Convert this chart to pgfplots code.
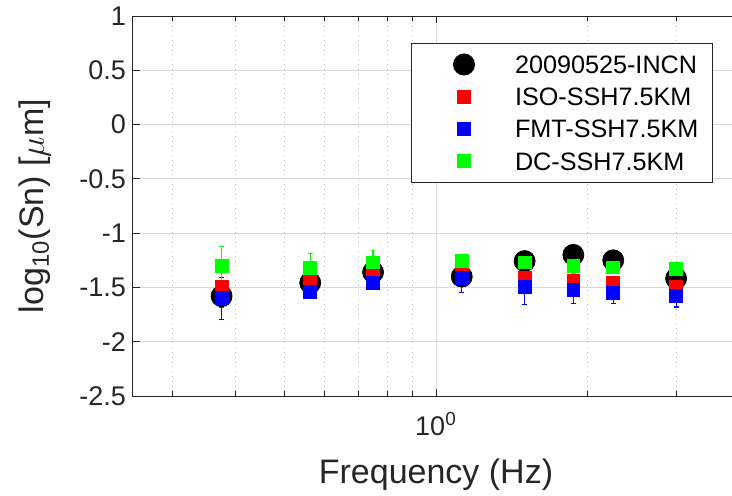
\documentclass[border=0pt]{standalone}
\usepackage{fontspec}
\setmainfont{Liberation Sans}
\usepackage{pgfplots}
\pgfplotsset{compat=1.18}
\usepackage{pgfplotstable}

\pgfplotstableread{
x      y       ey
0.375  -1.58   0
0.5625 -1.457  0
0.75   -1.36   0
1.125  -1.40   0
1.5    -1.257  0
1.875  -1.20   0
2.25   -1.25   0
3.0    -1.417  0
}\incn
\pgfplotstableread{
x      y       ey
0.375  -1.49   0.19
0.5625 -1.44   0.03
0.75   -1.37   0.04
1.125  -1.33   0.03
1.5    -1.41   0.05
1.875  -1.44   0.05
2.25   -1.457  0.05
3.0    -1.49   0.05
}\iso
\pgfplotstableread{
x      y       ey
0.375  -1.60   0.195
0.5625 -1.54   0.03
0.75   -1.46   0.03
1.125  -1.41   0.135
1.5    -1.494  0.16
1.875  -1.52   0.13
2.25   -1.55   0.10
3.0    -1.58   0.10
}\fmt
\pgfplotstableread{
x      y       ey
0.375  -1.30   0.18
0.5625 -1.32   0.13
0.75   -1.27   0.11
1.125  -1.255  0.03
1.5    -1.27   0.04
1.875  -1.30   0.07
2.25   -1.315  0.06
3.0    -1.33   0.03
}\dc

\definecolor{axgray}{gray}{0.15}

\begin{document}
\begin{tikzpicture}
\begin{semilogxaxis}[
  scale only axis,
  width=303pt, height=190pt,
  xmin=0.25, xmax=4,
  ymin=-2.5, ymax=1,
  ytick={-2.5,-2,-1.5,-1,-0.5,0,0.5,1},
  minor y tick num=0,
  xtick={1},
  xticklabels={10\textsuperscript{0}},
  minor xtick={0.3,0.4,0.5,0.6,0.7,0.8,0.9,2,3,4},
  grid=both,
  major grid style={color=black!15, line width=0.5pt},
  minor grid style={color=black!25, dotted, line width=0.5pt},
  axis line style={color=axgray, line width=0.5pt},
  tick style={color=axgray, line width=0.5pt},
  major tick length=3.5pt,
  minor tick length=2.5pt,
  tick align=inside,
  /pgf/number format/assume math mode=true,
  tick label style={font=\fontsize{13.5}{16}\selectfont, text=axgray},
  xticklabel style={yshift=-4.5pt},
  xlabel={Frequency (Hz)},
  ylabel={log\textsubscript{10}(Sn) [$\mu$m]},
  label style={font=\fontsize{17}{20}\selectfont, text=axgray},
  xlabel style={at={(rel axis cs:0.5,0)}, anchor=base, yshift=-43.5pt},
  ylabel style={at={(rel axis cs:0,0.5)}, anchor=center, yshift=49pt},
  legend cell align=left,
  legend image code/.code={
    \path[draw=none, fill=none] (0pt,-5.5pt) rectangle (39pt,5.5pt);
    \draw[#1] plot coordinates {(19.5pt,0pt)};
  },
  legend style={
    at={(rel axis cs:0.957,0.929)}, anchor=north east,
    draw=axgray, line width=0.5pt, fill=white,
    inner xsep=7pt, inner ysep=5pt,
    row sep=5.1pt, column sep=6pt,
    font=\fontsize{12.6}{14}\selectfont,
    nodes={inner sep=0pt, text height=10pt, text depth=1pt},
  },
  error bars/y dir=both,
  error bars/y explicit,
]
\coordinate (sw) at (rel axis cs:0,0);
\addplot[only marks, mark=*, mark size=5.25pt, color=black, mark options={fill=black}]
  table[x=x, y=y] {\incn};
\addlegendentry{20090525-INCN}
\addplot[only marks, mark=square*, mark size=3.2pt, color=red, mark options={fill=red},
  error bars/error bar style={color=red, line width=0.6pt},
  error bars/error mark options={rotate=90, mark size=1.2pt, line width=0.6pt, color=red}]
  table[x=x, y=y, y error=ey] {\iso};
\addlegendentry{ISO-SSH7.5KM}
\addplot[only marks, mark=square*, mark size=3.2pt, color=blue, mark options={fill=blue},
  error bars/error bar style={color=blue, line width=0.6pt},
  error bars/error mark options={rotate=90, mark size=1.2pt, line width=0.6pt, color=blue}]
  table[x=x, y=y, y error=ey] {\fmt};
\addlegendentry{FMT-SSH7.5KM}
\addplot[only marks, mark=square*, mark size=3.2pt, color=green, mark options={fill=green},
  error bars/error bar style={color=green, line width=0.6pt},
  error bars/error mark options={rotate=90, mark size=1.2pt, line width=0.6pt, color=green}]
  table[x=x, y=y, y error=ey] {\dc};
\addlegendentry{DC-SSH7.5KM}
\end{semilogxaxis}
\pgfresetboundingbox
\path[use as bounding box] ([shift={(-66.5pt,-49.5pt)}]sw) rectangle ([shift={(299.5pt,198pt)}]sw);
\end{tikzpicture}
\end{document}
